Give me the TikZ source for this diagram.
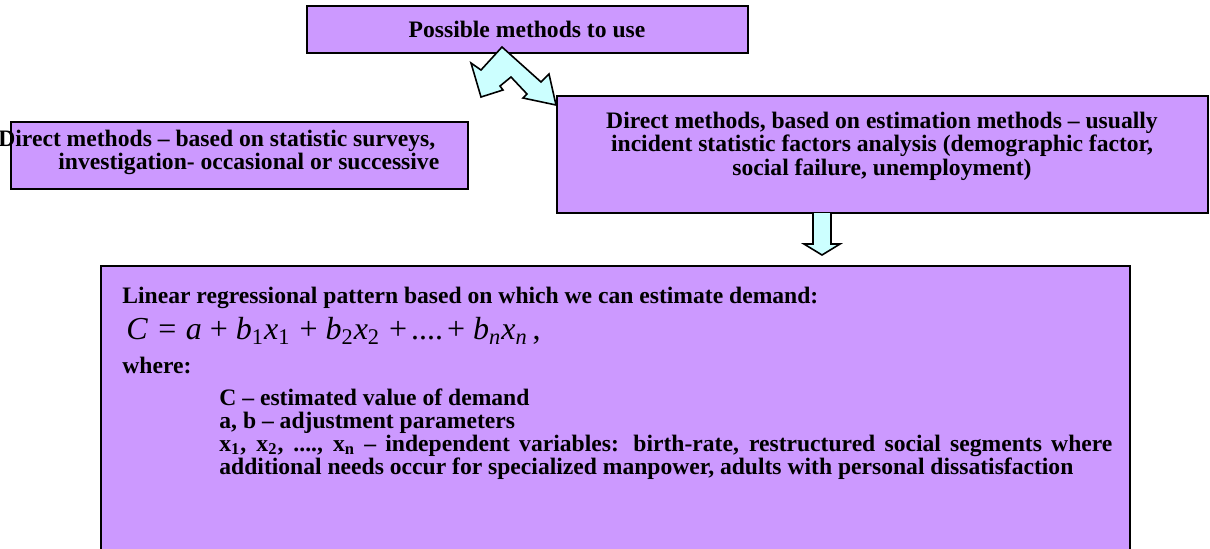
\documentclass[tikz,border=0pt]{standalone}
\usepackage{fontspec}
\setmainfont{Liberation Serif}
\definecolor{boxfill}{HTML}{CC99FF}
\definecolor{arrfill}{HTML}{CCFFFF}
\begin{document}
\begin{tikzpicture}[x=0.5pt,y=-0.5pt,
  box/.style={draw=black, line width=1pt, fill=boxfill, inner sep=0pt, outer sep=0pt, rectangle},
  txt/.style={inner sep=0pt, font=\fontsize{11.8}{11.5}\selectfont\bfseries},
  eqtxt/.style={inner sep=0pt, font=\fontsize{16}{17}\selectfont\mdseries},
  blockarrow/.style={draw=black, line width=0.8pt, fill=arrfill, line join=miter}]
\useasboundingbox (0,0) rectangle (1210,548);
\clip (0,0) rectangle (1210,548);
% boxes
\node[box, minimum width=220.5pt, minimum height=23.5pt] (top) at (527.5,29.5) {};
\node[box, minimum width=228.5pt, minimum height=33.5pt] (left) at (239.5,155.5) {};
\node[box, minimum width=325.5pt, minimum height=58.5pt] (right) at (882.5,154.5) {};
\node[box, minimum width=514.5pt, minimum height=147pt] (bottom) at (615.5,413) {};
% texts
\node[txt, anchor=base] (toptxt) at (527,37) {Possible methods to use};
\node[txt, anchor=base west] (l1) at (-2,146) {Direct methods – based on statistic surveys,};
\node[txt, anchor=base west] (l2) at (58,169) {investigation- occasional or successive};
\node[txt, anchor=base] (r1) at (882,128) {Direct methods, based on estimation methods – usually};
\node[txt, anchor=base] (r2) at (882,151) {incident statistic factors analysis (demographic factor,};
\node[txt, anchor=base] (r3) at (882,175) {social failure, unemployment)};
\node[txt, anchor=base west] (b1) at (122,303) {Linear regressional pattern based on which we can estimate demand:};
\node[eqtxt, anchor=base west] (eq) at (126,339) {\textit{C}\hspace{0.32em}=\hspace{0.3em}\textit{a}\hspace{0.25em}+\hspace{0.25em}\textit{b}\textsubscript{1}\textit{x}\textsubscript{1}\hspace{0.28em}+\hspace{0.25em}\textit{b}\textsubscript{2}\textit{x}\textsubscript{2}\hspace{0.28em}+\hspace{0.15em}\textit{....}\hspace{0.1em}+\hspace{0.25em}\textit{b}\textsubscript{\textit{n}}\textit{x}\textsubscript{\textit{n}}\hspace{0.15em},};
\node[txt, anchor=base west] (b3) at (122,373) {where:};
\node[txt, anchor=base west] (b4) at (219,405) {C – estimated value of demand};
\node[txt, anchor=base west] (b5) at (219,428) {a, b – adjustment parameters};
\node[txt, anchor=base west] (b6) at (219,451) {\makebox[446.5pt][s]{x\textsubscript{1}, x\textsubscript{2}, ...., x\textsubscript{n} – independent variables: birth-rate, restructured social segments where}};
\node[txt, anchor=base west] (b7) at (219,474) {additional needs occur for specialized manpower, adults with personal dissatisfaction};
% double block arrow from top box towards the two method boxes
\draw[blockarrow] (502,47) -- (481,70) -- (471,63) -- (481,97) -- (503,90) -- (500,86)
  -- (511,77) -- (527,94) -- (523,98) -- (556,105) -- (549,74) -- (541,82) -- cycle;
% down block arrow from right box to bottom box
\fill[arrfill] (813,213) -- (813,244) -- (804,244) -- (822,255) -- (840,244) -- (831,244) -- (831,213) -- cycle;
\draw[blockarrow, fill=none] (813,213) -- (813,244) -- (804,244) -- (822,255) -- (840,244) -- (831,244) -- (831,213);
\end{tikzpicture}
\end{document}
